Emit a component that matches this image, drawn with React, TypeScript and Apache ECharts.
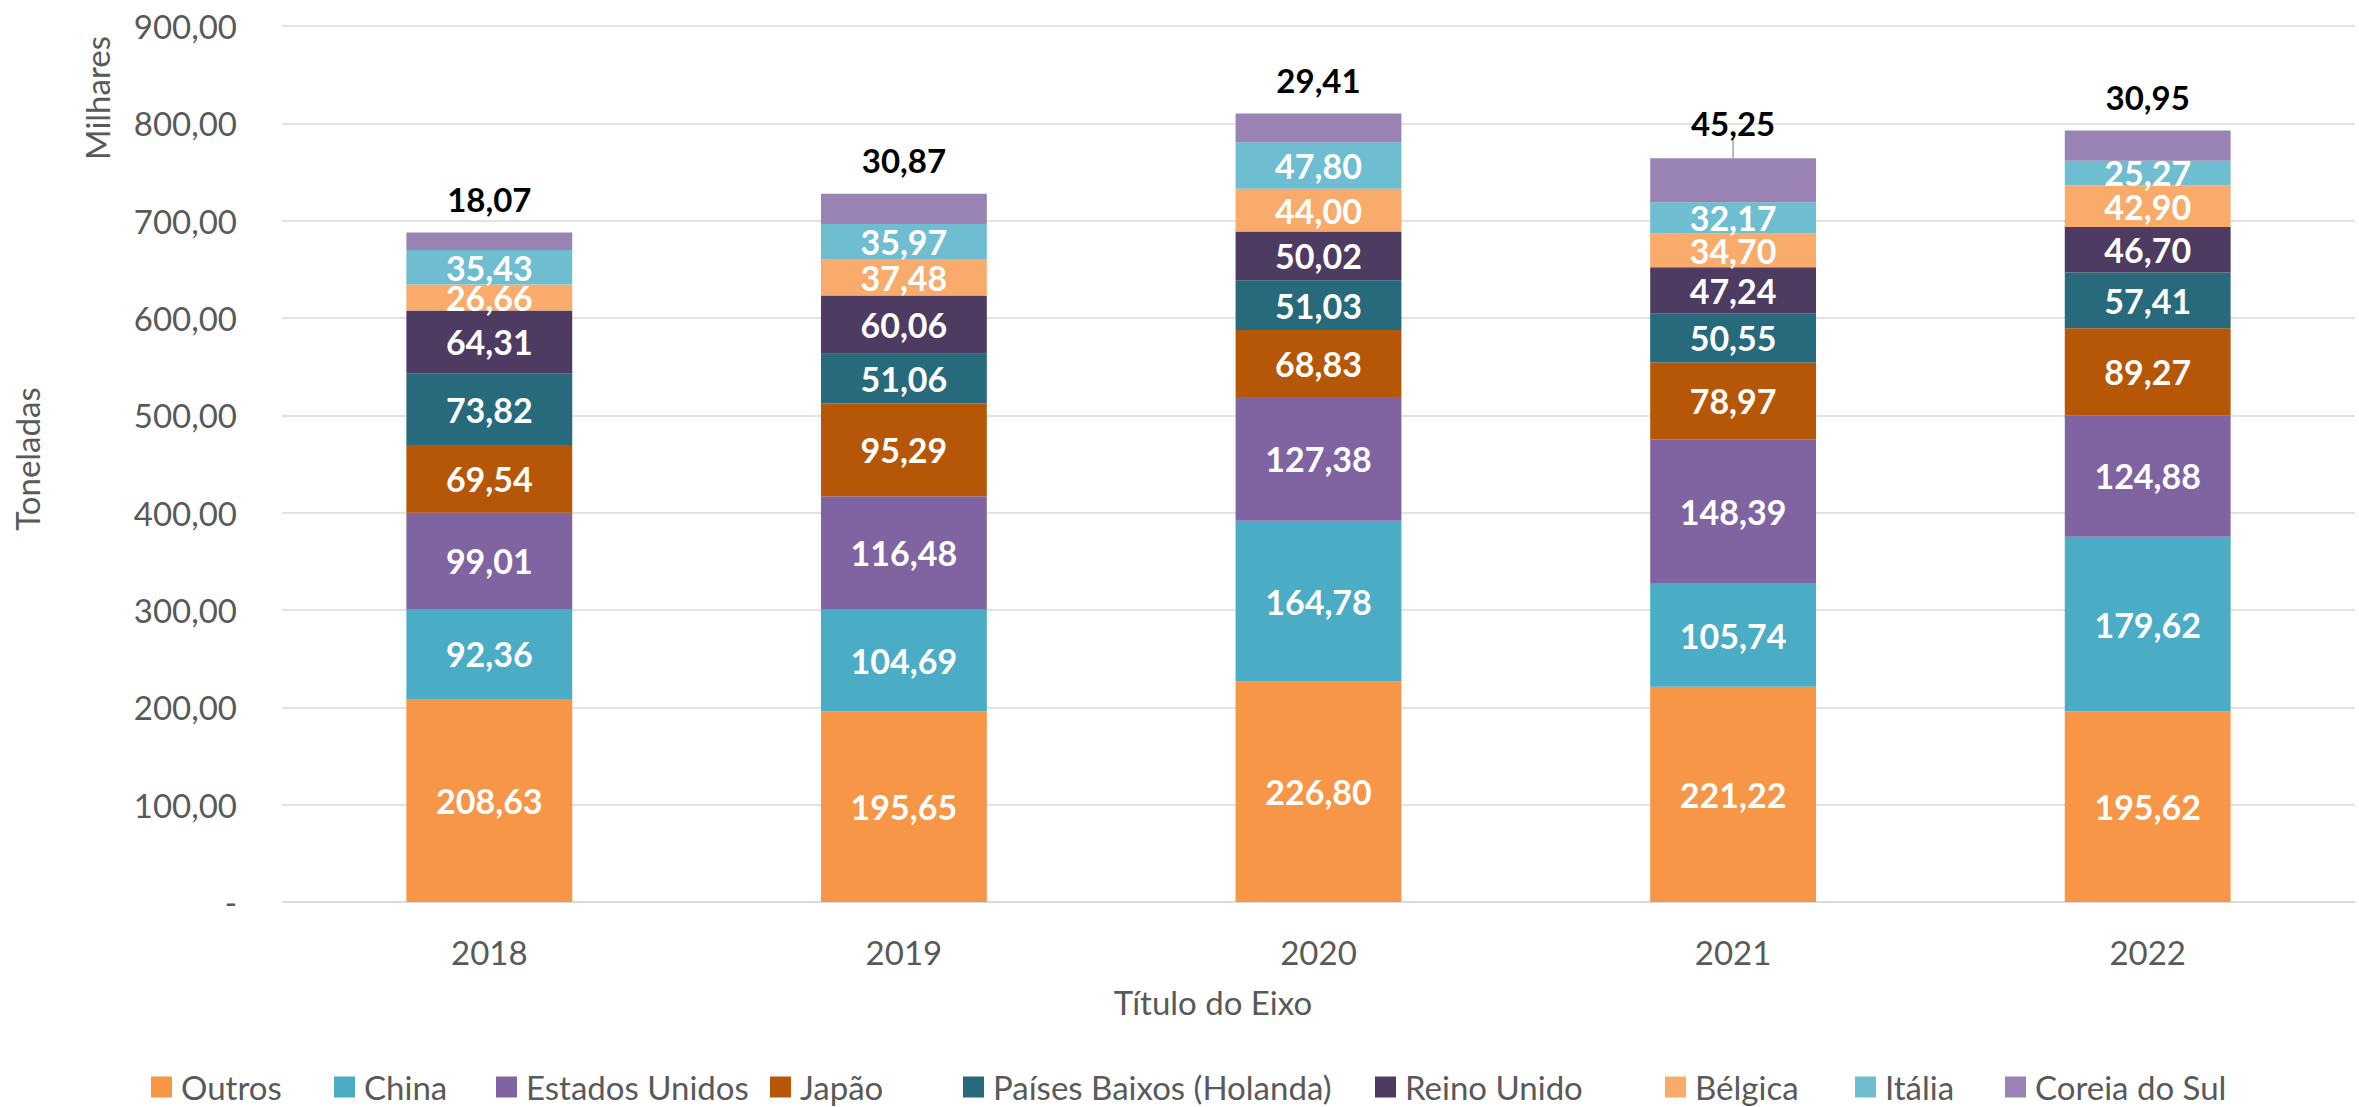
import React, { useEffect, useRef } from "react";
import * as echarts from "echarts";

const years = ["2018", "2019", "2020", "2021", "2022"];
const seriesNames = [
  "Outros",
  "China",
  "Estados Unidos",
  "Japão",
  "Países Baixos (Holanda)",
  "Reino Unido",
  "Bélgica",
  "Itália",
  "Coreia do Sul",
];
const outros = [208.63, 195.65, 226.8, 221.22, 195.62];
const china = [92.36, 104.69, 164.78, 105.74, 179.62];
const estadosUnidos = [99.01, 116.48, 127.38, 148.39, 124.88];
const japao = [69.54, 95.29, 68.83, 78.97, 89.27];
const paisesBaixos = [73.82, 51.06, 51.03, 50.55, 57.41];
const reinoUnido = [64.31, 60.06, 50.02, 47.24, 46.7];
const belgica = [26.66, 37.48, 44.0, 34.7, 42.9];
const italia = [35.43, 35.97, 47.8, 32.17, 25.27];
const coreiaDoSul = [18.07, 30.87, 29.41, 45.25, 30.95];
const seriesData = [outros, china, estadosUnidos, japao, paisesBaixos, reinoUnido, belgica, italia, coreiaDoSul];
const colors = ["#F79646", "#4BACC6", "#8064A2", "#B65708", "#276A7C", "#4D3B62", "#F9AB6B", "#6FBDD1", "#9983B5"];
const legendLefts = [151, 334, 496, 770, 963, 1375, 1665, 1855, 2005];
const leaderLineIndex = 3;

const FONT = "Lato";
const fmt = (v: number) => v.toFixed(2).replace(".", ",");

export default function App() {
  const ref = useRef<HTMLDivElement>(null);
  useEffect(() => {
    if (!ref.current) return;
    const chart = echarts.init(ref.current, undefined, { renderer: "svg" });
    const series = seriesNames.map((name, i) => {
      const last = i === seriesNames.length - 1;
      const s: any = {
        name,
        type: "bar",
        stack: "total",
        barWidth: "40%",
        data: last
          ? seriesData[i].map((v, j) =>
              j === leaderLineIndex
                ? { value: v, labelLine: { show: true, lineStyle: { color: "#A6A6A6", width: 1.5 } } }
                : { value: v, labelLine: { show: false } }
            )
          : seriesData[i],
        itemStyle: { color: colors[i] },
        label: last
          ? {
              show: true,
              position: "top",
              distance: 17,
              color: "#000000",
              fontWeight: "bold",
              fontSize: 33,
              fontFamily: FONT,
              formatter: (p: any) => fmt(p.value),
            }
          : {
              show: true,
              position: "inside",
              color: "#FFFFFF",
              fontWeight: "bold",
              fontSize: 34,
              fontFamily: FONT,
              formatter: (p: any) => fmt(p.value),
            },
      };
      if (last) {
        s.labelLine = { show: false };
        s.labelLayout = (p: any) => (p.dataIndex === leaderLineIndex ? { dy: -2 } : {});
      }
      return s;
    });
    const legends = seriesNames.map((name, i) => ({
      data: [name],
      left: legendLefts[i],
      top: 1070,
      padding: 0,
      itemWidth: 21,
      itemHeight: 21,
      icon: "rect",
      textStyle: { color: "#595959", fontSize: 33, fontFamily: FONT, lineHeight: 34, padding: [0, 0, 0, 4] },
    }));
    chart.setOption({
      animation: false,
      textStyle: { fontFamily: FONT },
      grid: { left: 282, right: 4, top: 26, bottom: 205, containLabel: false },
      legend: legends,
      xAxis: {
        type: "category",
        data: years,
        axisLine: { show: true, lineStyle: { color: "#D9D9D9", width: 1.5 } },
        axisTick: { show: false },
        axisLabel: { color: "#595959", fontSize: 33, fontFamily: FONT, margin: 33 },
      },
      yAxis: {
        type: "value",
        min: 0,
        max: 900,
        interval: 100,
        axisLine: { show: false },
        axisTick: { show: false },
        splitLine: { lineStyle: { color: "#D9D9D9", width: 1.5 } },
        axisLabel: {
          color: "#595959",
          fontSize: 33,
          fontFamily: FONT,
          margin: 45,
          formatter: (v: number) => (v === 0 ? "-" : fmt(v)),
        },
      },
      graphic: [
        {
          type: "text",
          x: 97,
          y: 98,
          rotation: Math.PI / 2,
          style: {
            text: "Milhares",
            fill: "#595959",
            fontSize: 33,
            fontFamily: FONT,
            textAlign: "center",
            textVerticalAlign: "middle",
          },
        },
        {
          type: "text",
          x: 27,
          y: 459,
          rotation: Math.PI / 2,
          style: {
            text: "Toneladas",
            fill: "#595959",
            fontSize: 33,
            fontFamily: FONT,
            textAlign: "center",
            textVerticalAlign: "middle",
          },
        },
        {
          type: "text",
          x: 1213,
          y: 1002,
          style: {
            text: "Título do Eixo",
            fill: "#595959",
            fontSize: 33,
            fontFamily: FONT,
            textAlign: "center",
            textVerticalAlign: "middle",
          },
        },
      ],
      series,
    });
    return () => chart.dispose();
  }, []);
  return <div ref={ref} style={{ width: 2359, height: 1107, position: "absolute", left: 0, top: 0 }} />;
}
